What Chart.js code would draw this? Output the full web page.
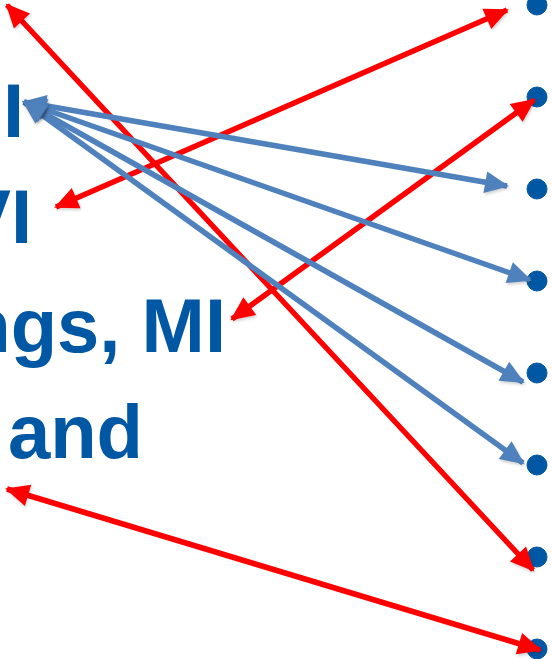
<!DOCTYPE html>
<html>
<head>
<meta charset="utf-8">
<style>
    html, body { margin: 0; padding: 0; background: #ffffff; }
    #wrap { width: 552px; height: 659px; position: relative; }
</style>
</head>
<body>
<div id="wrap">
    <canvas id="slideChart"></canvas>
</div>
<script src="https://cdn.jsdelivr.net/npm/chart.js"></script>
<script>
    // bullet column on the right
    var bulletX = [537, 537, 537, 537, 537, 537, 537, 537];
    var bulletY = [5, 97, 189, 281, 373, 465, 557, 649];

    // red double arrows: start and end tips
    var redFromX = [7, 56, 232, 7];
    var redFromY = [5, 207, 319, 489];
    var redToX = [533, 507, 534, 540];
    var redToY = [570, 10, 100, 650];

    // blue arrows fan out from one point on the left
    var blueFromX = [24, 24, 24, 24];
    var blueFromY = [102, 102, 102, 102];
    var blueToX = [507, 530, 523, 523];
    var blueToY = [186, 280, 382, 463];

    // text fragments left visible on the slide
    var textLines = ['Angina, MI', 'CVI', 'Findings, MI', 'Diabetes and'];
    var textRightX = [24, 32, 226, 143];
    var textBaseY = [137, 243, 352, 458];

    var RED = '#ff0000';
    var BLUE = '#4f81bd';
    var TEXT_BLUE = '#0057a3';

    function arrowSet(fx, fy, tx, ty, color) {
        return fx.map(function (x, i) {
            return {
                type: 'line',
                data: [{x: x, y: fy[i]}, {x: tx[i], y: ty[i]}],
                borderColor: color,
                borderWidth: 5.5,
                pointRadius: 0,
                showLine: true,
                fill: false,
                arrow: true
            };
        });
    }

    var datasets = [];
    datasets = datasets.concat(arrowSet(blueFromX, blueFromY, blueToX, blueToY, BLUE));
    datasets = datasets.concat(arrowSet(redFromX, redFromY, redToX, redToY, RED));
    datasets.push({
        type: 'scatter',
        data: bulletX.map(function (x, i) { return {x: x, y: bulletY[i]}; }),
        backgroundColor: TEXT_BLUE,
        borderColor: TEXT_BLUE,
        pointRadius: 10,
        pointHoverRadius: 10
    });

    function drawHead(ctx, x1, y1, x2, y2, color) {
        // tip at (x2, y2), pointing away from (x1, y1)
        var a = Math.atan2(y2 - y1, x2 - x1);
        var len = 24, half = 11;
        var tx = x2 + Math.cos(a) * 2, ty = y2 + Math.sin(a) * 2;
        var bx = tx - Math.cos(a) * len, by = ty - Math.sin(a) * len;
        ctx.beginPath();
        ctx.moveTo(tx, ty);
        ctx.lineTo(bx + Math.sin(a) * half, by - Math.cos(a) * half);
        ctx.lineTo(bx - Math.sin(a) * half, by + Math.cos(a) * half);
        ctx.closePath();
        ctx.fillStyle = color;
        ctx.fill();
    }

    var slidePlugin = {
        id: 'slideBits',
        beforeDatasetsDraw: function (chart) {
            var ctx = chart.ctx;
            var xs = chart.scales.x, ys = chart.scales.y;
            ctx.save();
            ctx.fillStyle = TEXT_BLUE;
            ctx.font = 'bold 76px "Liberation Sans", Arial, sans-serif';
            ctx.textAlign = 'right';
            ctx.textBaseline = 'alphabetic';
            textLines.forEach(function (t, i) {
                ctx.fillText(t, xs.getPixelForValue(textRightX[i]), ys.getPixelForValue(textBaseY[i]));
            });
            ctx.restore();
        },
        afterDatasetsDraw: function (chart) {
            var ctx = chart.ctx;
            ctx.save();
            ctx.shadowColor = 'rgba(0,0,0,0.18)';
            ctx.shadowBlur = 3;
            ctx.shadowOffsetX = 1;
            ctx.shadowOffsetY = 2;
            chart.data.datasets.forEach(function (ds, i) {
                if (!ds.arrow) return;
                var pts = chart.getDatasetMeta(i).data;
                var p0 = pts[0], p1 = pts[1];
                drawHead(ctx, p0.x, p0.y, p1.x, p1.y, ds.borderColor);
                drawHead(ctx, p1.x, p1.y, p0.x, p0.y, ds.borderColor);
            });
            ctx.restore();
        }
    };

    document.addEventListener('DOMContentLoaded', function () {
        var ctx = document.getElementById('slideChart').getContext('2d');
        new Chart(ctx, {
            type: 'scatter',
            data: {datasets: datasets},
            options: {
                responsive: true,
                maintainAspectRatio: false,
                animation: false,
                layout: {padding: 0, autoPadding: false},
                plugins: {
                    legend: {display: false},
                    tooltip: {enabled: false}
                },
                scales: {
                    x: {type: 'linear', min: 0, max: 552, display: false},
                    y: {type: 'linear', min: 0, max: 659, reverse: true, display: false}
                }
            },
            plugins: [slidePlugin]
        });
    });
</script>
</body>
</html>
